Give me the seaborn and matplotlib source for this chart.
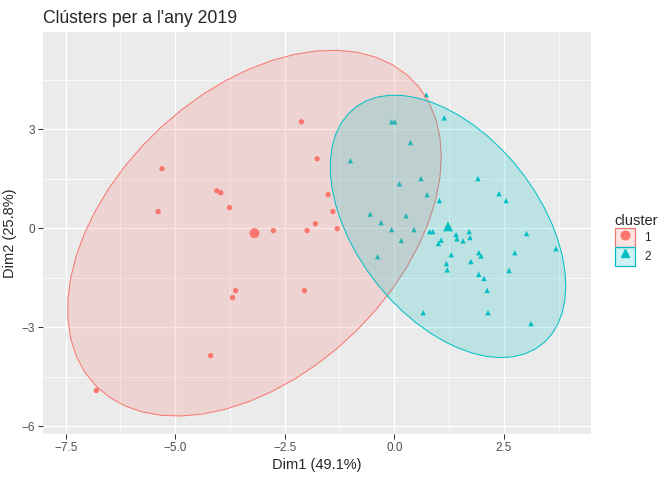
"""
Clusters for the year 2019 on the first two principal dimensions,
with 95% normal ellipses per cluster (fviz_cluster look).
"""

## Import packages
import numpy as np
import pandas as pd
import matplotlib
matplotlib.use("Agg")
import matplotlib.pyplot as plt
import seaborn as sns
from matplotlib.patches import Polygon, Patch
from matplotlib.lines import Line2D
from matplotlib.legend_handler import HandlerTuple
from matplotlib.ticker import MultipleLocator
from matplotlib.colors import to_rgba


## Data
dim1_c1 = [-2.12, -1.76, -5.30, -4.05, -3.96, -1.51, -5.39, -3.76, -1.40,
           -1.80, -2.76, -1.99, -1.30, -3.62, -3.69, -2.05, -4.19, -6.80]
dim2_c1 = [3.23, 2.11, 1.81, 1.14, 1.08, 1.02, 0.51, 0.63, 0.51,
           0.14, -0.07, -0.07, -0.01, -1.89, -2.10, -1.89, -3.86, -4.92]

dim1_c2 = [0.73, -0.06, 0.01, 1.14, 0.37, -1.00, 1.91, 0.61, 0.12, 0.75,
           2.39, 2.55, 1.03, -0.55, 0.27, -0.30, -0.06, 0.45, 0.16, -0.38,
           0.81, 0.88, 1.41, 1.43, 1.71, 1.73, 1.57, 1.07, 1.01, 3.02,
           3.69, 1.30, 1.93, 1.98, 2.75, 1.75, 1.19, 1.21, 2.62, 1.93,
           2.05, 2.12, 0.66, 2.14, 3.12]
dim2_c2 = [4.05, 3.23, 3.23, 3.35, 2.60, 2.05, 1.51, 1.51, 1.35, 1.02,
           1.05, 0.84, 0.84, 0.43, 0.38, 0.17, -0.04, -0.04, -0.37, -0.86,
           -0.10, -0.10, -0.19, -0.32, -0.10, -0.28, -0.38, -0.36, -0.46, -0.16,
           -0.62, -0.80, -0.74, -0.84, -0.74, -1.01, -1.07, -1.26, -1.28, -1.40,
           -1.52, -1.88, -2.56, -2.56, -2.89]

clusters = ["1", "2"]
colors = {"1": "#F8766D", "2": "#00BFC4"}
markers = {"1": "o", "2": "^"}

df = pd.DataFrame({
    "Dim1": dim1_c1 + dim1_c2,
    "Dim2": dim2_c1 + dim2_c2,
    "cluster": ["1"] * len(dim1_c1) + ["2"] * len(dim1_c2),
})
centers = df.groupby("cluster", as_index=False)[["Dim1", "Dim2"]].mean()


## 95% normal ellipse, same recipe as ggplot2 stat_ellipse(type="norm")
def norm_ellipse(x, y, level=0.95, segments=51):
    xy = np.column_stack([x, y])
    n = len(xy)
    center = xy.mean(axis=0)
    shape = np.cov(xy, rowvar=False)
    # F quantile with 2 numerator df has a closed form
    dfd = n - 1
    qf = dfd / 2 * ((1 - level) ** (-2 / dfd) - 1)
    radius = np.sqrt(2 * qf)
    angles = np.arange(segments + 1) * 2 * np.pi / segments
    circle = np.column_stack([np.cos(angles), np.sin(angles)])
    chol = np.linalg.cholesky(shape).T
    return center + radius * circle @ chol


ellipses = {c: norm_ellipse(df.loc[df.cluster == c, "Dim1"],
                            df.loc[df.cluster == c, "Dim2"]) for c in clusters}


## Figure style (ggplot grey theme)
sns.set_theme(style="darkgrid", rc={
    "axes.facecolor": "#EBEBEB",
    "grid.color": "white",
    "axes.edgecolor": "none",
    "xtick.color": "#333333",
    "ytick.color": "#333333",
    "xtick.labelcolor": "#4D4D4D",
    "ytick.labelcolor": "#4D4D4D",
    "xtick.bottom": True,
    "ytick.left": True,
    "xtick.major.size": 3.5,
    "ytick.major.size": 3.5,
    "xtick.major.width": 0.8,
    "ytick.major.width": 0.8,
    "xtick.major.pad": 2.5,
    "ytick.major.pad": 2.5,
})
plt.rcParams["font.family"] = ["Liberation Sans", "DejaVu Sans"]

fig = plt.figure(figsize=(7, 5), dpi=96)
ax = fig.add_axes([43 / 672, 1 - 434.3 / 480, (590.7 - 43) / 672, (434.3 - 32) / 480])

# Points
sns.scatterplot(ax=ax, data=df, x="Dim1", y="Dim2", hue="cluster", style="cluster",
                palette=colors, markers=markers, s=16, linewidth=0, legend=False,
                zorder=2)

# Ellipses
for c in clusters:
    ax.add_patch(Polygon(ellipses[c], closed=True, facecolor=to_rgba(colors[c], 0.2),
                         edgecolor=colors[c], linewidth=0.75, zorder=3))

# Cluster centres
sns.scatterplot(ax=ax, data=centers, x="Dim1", y="Dim2", hue="cluster", style="cluster",
                palette=colors, markers=markers, s=55, linewidth=0, legend=False,
                zorder=4)

# Limits with 5% expansion, as ggplot does
all_x = np.concatenate([df.Dim1] + [e[:, 0] for e in ellipses.values()])
all_y = np.concatenate([df.Dim2] + [e[:, 1] for e in ellipses.values()])
dx = (all_x.max() - all_x.min()) * 0.05
dy = (all_y.max() - all_y.min()) * 0.05
ax.set_xlim(all_x.min() - dx, all_x.max() + dx)
ax.set_ylim(all_y.min() - dy, all_y.max() + dy)

# Grid
ax.xaxis.set_major_locator(MultipleLocator(2.5))
ax.xaxis.set_minor_locator(MultipleLocator(1.25))
ax.yaxis.set_major_locator(MultipleLocator(3))
ax.yaxis.set_minor_locator(MultipleLocator(1.5))
ax.grid(which="major", color="white", linewidth=1.1)
ax.grid(which="minor", color="white", linewidth=0.55)
ax.tick_params(which="minor", length=0)
ax.tick_params(labelsize=8.8)
ax.set_axisbelow(True)
for s in ax.spines.values():
    s.set_visible(False)

# Labels
ax.set_xlabel("Dim1 (49.1%)", fontsize=11, labelpad=3)
ax.set_ylabel("Dim2 (25.8%)", fontsize=11, labelpad=3)
ax.set_title("Clústers per a l'any 2019", loc="left", fontsize=13.2, pad=7)

# Legend: filled square key with the marker drawn on top
handles = [(Patch(facecolor=to_rgba(colors[c], 0.2), edgecolor=colors[c], linewidth=0.9),
            Line2D([], [], marker=markers[c], color=colors[c], linestyle="", markersize=6.5))
           for c in clusters]
leg = fig.legend(handles, clusters, title="cluster", loc="center left",
                 bbox_to_anchor=(604 / 672, 0.5), frameon=False,
                 handler_map={tuple: HandlerTuple(ndivide=1, pad=0)},
                 handlelength=1.75, handleheight=2.05, handletextpad=0.8,
                 labelspacing=0.0, fontsize=8.8, title_fontsize=11,
                 alignment="left")

plt.savefig("out.png", dpi=96)
